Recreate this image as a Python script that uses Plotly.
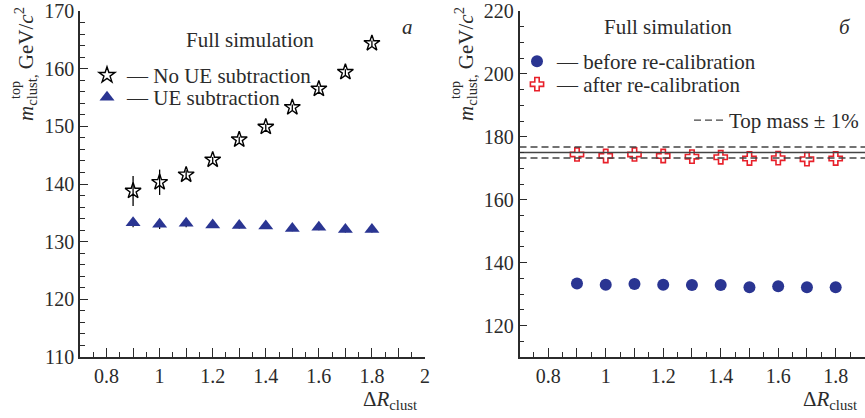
import plotly.graph_objects as go

# Cluster radius values
dr = [0.9, 1.0, 1.1, 1.2, 1.3, 1.4, 1.5, 1.6, 1.7, 1.8]

# Left panel: reconstructed top mass without / with UE subtraction (GeV/c^2)
m_no_ue = [138.8, 140.3, 141.6, 144.2, 147.7, 149.9, 153.3, 156.5, 159.4, 164.4]
m_no_ue_err = [2.6, 2.2, 0.8, 0.5, 0.5, 0.5, 0.5, 0.5, 0.5, 0.5]
m_ue = [133.3, 133.0, 133.2, 132.9, 132.8, 132.7, 132.3, 132.5, 132.1, 132.1]
m_ue_err = [0.8, 0.8, 0.7, 0.5, 0.5, 0.5, 0.5, 0.5, 0.5, 0.5]

# Right panel: before / after re-calibration (GeV/c^2)
m_before = [133.4, 133.0, 133.2, 133.0, 132.9, 132.9, 132.2, 132.5, 132.2, 132.2]
m_after = [174.4, 173.9, 174.4, 173.9, 173.7, 173.5, 173.1, 173.2, 172.9, 173.1]

top_mass = 175.0
band = 0.01

# Axis ticks
x_tickvals = [0.8, 0.9, 1.0, 1.1, 1.2, 1.3, 1.4, 1.5, 1.6, 1.7, 1.8, 1.9, 2.0]
x_ticktext = ["0.8", "", "1", "", "1.2", "", "1.4", "", "1.6", "", "1.8", "", "2"]
yl_tickvals = [110, 120, 130, 140, 150, 160, 170]
yr_tickvals = [120, 140, 160, 180, 200, 220]

FONT = "Liberation Serif, Times New Roman, Tinos, DejaVu Serif, serif"
INK = "#2b2b2b"
NAVY = "#2a3592"
RED = "#e8202a"
W, H = 865, 418

fig = go.Figure()

# --- left panel
fig.add_trace(go.Scatter(
    x=dr, y=m_no_ue, mode="markers", name="— No UE subtraction",
    marker=dict(symbol="star-open", size=12, color="black", line=dict(width=1.4, color="black")),
    error_y=dict(type="data", array=m_no_ue_err, color="black", thickness=1.3, width=0),
    xaxis="x", yaxis="y", legend="legend"))
fig.add_trace(go.Scatter(
    x=dr, y=m_ue, mode="markers", name="— UE subtraction",
    marker=dict(symbol="triangle-up", size=13, color=NAVY),
    error_y=dict(type="data", array=m_ue_err, color="black", thickness=1.2, width=0),
    xaxis="x", yaxis="y", legend="legend4"))

# --- right panel
x_line = [0.7, 1.91]
fig.add_trace(go.Scatter(
    x=dr, y=m_before, mode="markers", name="— before re-calibration",
    marker=dict(symbol="circle", size=12, color=NAVY),
    xaxis="x2", yaxis="y2", legend="legend2"))
fig.add_trace(go.Scatter(
    x=dr, y=m_after, mode="markers", name="— after re-calibration",
    marker=dict(symbol="cross-open", size=11, color=RED, line=dict(width=1.6, color=RED)),
    xaxis="x2", yaxis="y2", legend="legend5"))
fig.add_trace(go.Scatter(
    x=x_line, y=[top_mass, top_mass], mode="lines", showlegend=False,
    line=dict(color="#444", width=1.4), xaxis="x2", yaxis="y2"))
fig.add_trace(go.Scatter(
    x=x_line, y=[top_mass * (1 + band)] * 2, mode="lines", name="Top mass ± 1%",
    line=dict(color="#444", width=1.4, dash="7px,4px"), xaxis="x2", yaxis="y2", legend="legend3"))
fig.add_trace(go.Scatter(
    x=x_line, y=[top_mass * (1 - band)] * 2, mode="lines", showlegend=False,
    line=dict(color="#444", width=1.4, dash="7px,4px"), xaxis="x2", yaxis="y2"))

ydom = [(H - 357) / H, (H - 11) / H]
axis_common = dict(showline=True, linecolor=INK, linewidth=1.5, ticks="inside",
                   tickcolor=INK, tickwidth=1.2, showgrid=False, zeroline=False,
                   automargin=False,
                   tickfont=dict(family=FONT, size=20, color=INK), mirror=False)

def legend_at(px, py, anchor="left"):
    # single-entry legend box whose top-left (or top-right) corner sits at pixel (px, py)
    return dict(x=px / W, y=1 - py / H, xanchor=anchor, yanchor="top",
                bgcolor="rgba(0,0,0,0)", font=dict(family=FONT, size=21, color=INK),
                itemwidth=30, tracegroupgap=0)

fig.update_layout(
    width=W, height=H, margin=dict(l=0, r=0, t=0, b=0, autoexpand=False),
    paper_bgcolor="white", plot_bgcolor="white",
    font=dict(family=FONT, color=INK),
    xaxis=dict(domain=[80 / W, 425 / W], range=[0.7, 2.0], anchor="y",
               tickmode="array", tickvals=x_tickvals, ticktext=x_ticktext, ticklen=9,
               minor=dict(ticks="inside", tickmode="linear", tick0=0.75, dtick=0.1,
                          ticklen=5, tickcolor=INK, tickwidth=1.2),
               **axis_common),
    yaxis=dict(domain=ydom, range=[110, 170], anchor="x",
               tickmode="array", tickvals=yl_tickvals, ticklen=8,
               minor=dict(ticks="inside", tickmode="linear", tick0=110, dtick=2,
                          ticklen=5, tickcolor=INK, tickwidth=1.2),
               **axis_common),
    xaxis2=dict(domain=[519.5 / W, 1.0], range=[0.7, 1.902], anchor="y2",
                tickmode="array", tickvals=x_tickvals, ticktext=x_ticktext, ticklen=9,
                minor=dict(ticks="inside", tickmode="linear", tick0=0.75, dtick=0.1,
                           ticklen=5, tickcolor=INK, tickwidth=1.2),
                **axis_common),
    yaxis2=dict(domain=ydom, range=[110, 220], anchor="x2",
                tickmode="array", tickvals=yr_tickvals, ticklen=8,
                minor=dict(ticks="inside", tickmode="linear", tick0=110, dtick=5,
                           ticklen=5, tickcolor=INK, tickwidth=1.2),
                **axis_common),
    legend=legend_at(87, 55),
    legend4=legend_at(87, 77),
    legend2=legend_at(517, 41),
    legend5=legend_at(517, 64),
    legend3=legend_at(864, 100, anchor="right"),
)

def note(text, px, py, size=21, angle=0, anchor="center"):
    fig.add_annotation(text=text, x=px / W, y=1 - py / H, xref="paper", yref="paper",
                       showarrow=False, textangle=angle, xanchor=anchor, yanchor="middle",
                       font=dict(family=FONT, size=size, color=INK))

# panel texts
note("Full simulation", 250, 40)
note("<i>a</i>", 407, 27, size=21)
note("Full simulation", 668, 27)
note("<i>б</i>", 845, 27, size=21)

# x-axis titles
note("Δ<i>R</i><sub>clust</sub>", 390, 400, size=21)
note("Δ<i>R</i><sub>clust</sub>", 830, 400, size=21)

# y-axis titles
for xc in (25, 465):
    note("<i>m</i><sub>clust</sub><sub>,</sub> GeV/<i>c</i><sup>2</sup>", xc, 64, size=21, angle=-90)
    note("top", xc - 10, 90, size=14, angle=-90)

fig.write_html("out.html")
